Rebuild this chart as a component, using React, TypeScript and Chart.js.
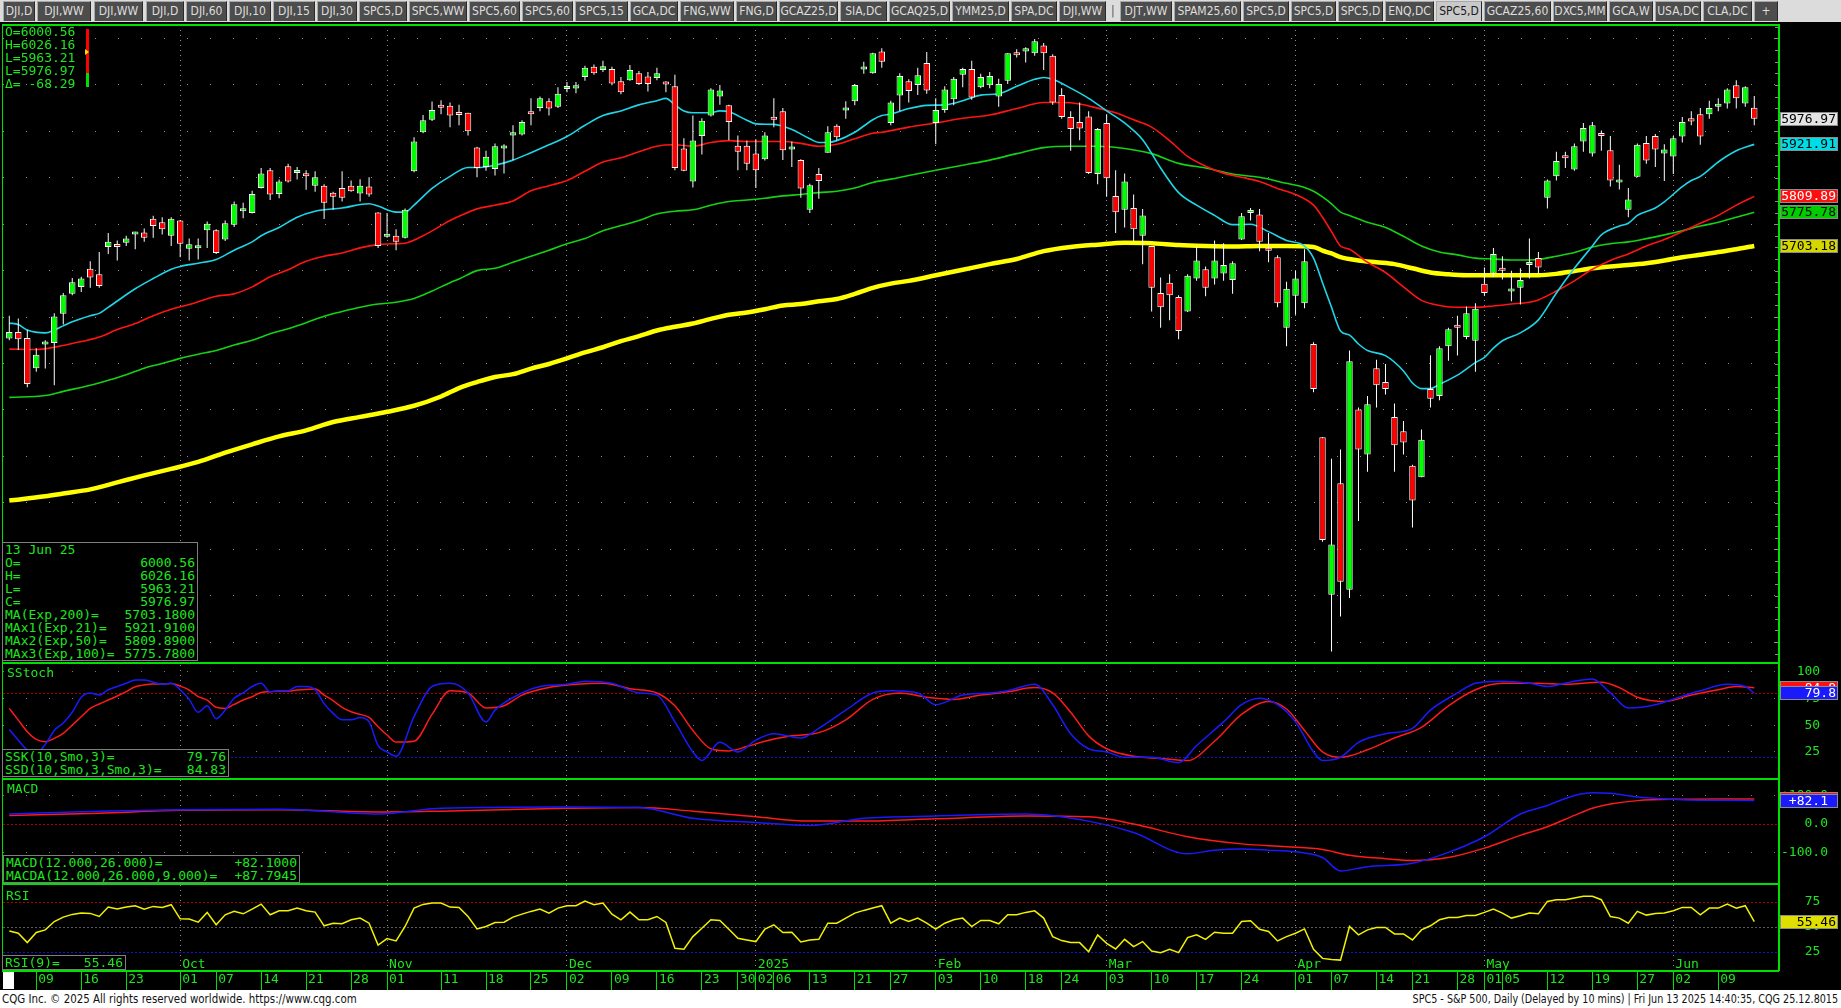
import React, { useEffect, useRef } from 'react';
import { Chart, registerables } from 'chart.js';

Chart.register(...registerables);

const MONO = "'DejaVu Sans Mono', monospace";
const NARROW = "'Liberation Sans Narrow', 'DejaVu Sans Condensed', sans-serif";
const GREEN = '#1ee61e';
const LINE_GREEN = '#00e000';

// Trading-day index: 0 = 04 Sep 2024 ... 194 = 13 Jun 2025
const dayTickIdx = [3, 8, 13, 19, 23, 28, 33, 38, 42, 48, 53, 58, 62, 67, 72, 77, 81, 83, 85, 89, 94, 98, 103, 108, 113, 117, 122, 127, 132, 137, 143, 147, 152, 156, 161, 164, 166, 171, 176, 181, 185, 190];
const dayTickLabels = ['09', '16', '23', '01', '07', '14', '21', '28', '01', '11', '18', '25', '02', '09', '16', '23', '30', '02', '06', '13', '21', '27', '03', '10', '18', '24', '03', '10', '17', '24', '01', '07', '14', '21', '28', '01', '05', '12', '19', '27', '02', '09'];
const monthTickIdx = [19, 42, 62, 83, 103, 122, 143, 164, 185];
const monthTickLabels = ['Oct', 'Nov', 'Dec', '2025', 'Feb', 'Mar', 'Apr', 'May', 'Jun'];

const open = [
  5504, 5518, 5505, 5440, 5491, 5494, 5557, 5600, 5615, 5654,
  5642, 5701, 5707, 5710, 5728, 5732, 5762, 5754, 5725, 5758,
  5697, 5698, 5737, 5737, 5717, 5749, 5778, 5774, 5828, 5866,
  5815, 5875, 5860, 5858, 5833, 5833, 5818, 5828, 5833, 5816,
  5831, 5775, 5723, 5725, 5721, 5864, 5948, 5975, 6007, 6005,
  5987, 5990, 5915, 5873, 5869, 5913, 5941, 5943, 5993, 6000,
  6015, 6003, 6041, 6042, 6067, 6089, 6082, 6084, 6058, 6060,
  6075, 6068, 6065, 6053, 6047, 5913, 5842, 5940, 5984, 6025,
  6006, 5919, 5919, 5902, 5890, 5981, 5993, 5911, 5888, 5781,
  5858, 5904, 5962, 5995, 6015, 6083, 6075, 6122, 5968, 6027,
  6058, 6050, 6097, 5968, 5996, 6019, 6072, 6084, 6045, 6049,
  6025, 6059, 6117, 6122, 6118, 6135, 6113, 6028, 5981, 5970,
  5982, 5858, 5968, 5811, 5781, 5785, 5725, 5703, 5602, 5624,
  5593, 5562, 5633, 5653, 5633, 5644, 5630, 5717, 5774, 5771,
  5694, 5679, 5527, 5596, 5580, 5492, 5291, 4952, 5192, 4963,
  5351, 5254, 5440, 5410, 5335, 5304, 5230, 5205, 5395, 5380,
  5487, 5530, 5507, 5499, 5622, 5644, 5654, 5605, 5613, 5662,
  5677, 5807, 5853, 5895, 5868, 5928, 5902, 5943, 5909, 5840,
  5781, 5852, 5925, 5940, 5902, 5896, 5939, 5978, 5987, 5987,
  6003, 6010, 6049, 6010, 6000.56,
];
const high = [
  5553, 5547, 5522, 5483, 5500, 5558, 5602, 5634, 5637, 5670,
  5690, 5731, 5715, 5725, 5734, 5741, 5768, 5765, 5765, 5759,
  5719, 5719, 5756, 5739, 5758, 5799, 5796, 5822, 5871, 5871,
  5846, 5880, 5873, 5866, 5864, 5836, 5820, 5864, 5844, 5847,
  5851, 5776, 5774, 5739, 5784, 5937, 5985, 6014, 6017, 6012,
  6007, 5990, 5917, 5908, 5924, 5922, 5963, 5974, 6021, 6025,
  6021, 6045, 6056, 6056, 6091, 6094, 6102, 6089, 6067, 6093,
  6080, 6078, 6087, 6058, 6072, 5935, 5984, 5978, 6043, 6050,
  6007, 5941, 5930, 5933, 5948, 6021, 6000, 5928, 5890, 5837,
  5871, 5961, 5965, 6015, 6052, 6100, 6119, 6129, 6016, 6075,
  6062, 6087, 6121, 6021, 6047, 6067, 6087, 6102, 6074, 6078,
  6063, 6118, 6127, 6131, 6149, 6140, 6116, 6043, 5993, 6012,
  5993, 5957, 5987, 5866, 5859, 5814, 5783, 5703, 5635, 5642,
  5597, 5642, 5703, 5659, 5715, 5709, 5670, 5774, 5785, 5783,
  5731, 5683, 5626, 5650, 5696, 5496, 5291, 5245, 5265, 5478,
  5355, 5380, 5458, 5449, 5364, 5326, 5232, 5308, 5468, 5487,
  5527, 5553, 5573, 5580, 5657, 5699, 5681, 5650, 5655, 5719,
  5690, 5846, 5906, 5906, 5924, 5968, 5970, 5952, 5940, 5878,
  5828, 5924, 5940, 5944, 5922, 5940, 5981, 5993, 6000, 6016,
  6021, 6043, 6060, 6047, 6026.16,
];
const low = [
  5500, 5479, 5399, 5432, 5439, 5403, 5534, 5597, 5604, 5613,
  5613, 5686, 5672, 5703, 5696, 5712, 5721, 5728, 5703, 5679,
  5672, 5674, 5699, 5686, 5714, 5744, 5763, 5773, 5827, 5802,
  5806, 5840, 5846, 5824, 5820, 5761, 5781, 5799, 5820, 5799,
  5809, 5699, 5721, 5694, 5719, 5862, 5946, 5972, 5987, 5959,
  5963, 5941, 5851, 5865, 5855, 5859, 5888, 5941, 5963, 5993,
  5984, 6000, 6034, 6032, 6059, 6072, 6078, 6049, 6030, 6059,
  6050, 6036, 6060, 6034, 5866, 5864, 5829, 5900, 5982, 6007,
  5931, 5866, 5866, 5828, 5887, 5959, 5888, 5873, 5807, 5774,
  5805, 5904, 5930, 5977, 6006, 6074, 6074, 6087, 5963, 5994,
  6012, 6028, 6031, 5922, 5990, 6006, 6045, 6018, 6043, 6043,
  6003, 6052, 6109, 6098, 6113, 6082, 6007, 5977, 5908, 5931,
  5858, 5836, 5809, 5731, 5743, 5712, 5664, 5562, 5527, 5543,
  5502, 5561, 5628, 5595, 5620, 5628, 5600, 5716, 5758, 5692,
  5668, 5571, 5487, 5555, 5569, 5388, 5066, 4830, 4905, 4945,
  5111, 5217, 5355, 5383, 5217, 5254, 5097, 5205, 5355, 5371,
  5456, 5467, 5502, 5432, 5596, 5637, 5631, 5584, 5577, 5633,
  5643, 5784, 5844, 5871, 5865, 5906, 5896, 5908, 5831, 5825,
  5765, 5851, 5880, 5873, 5843, 5858, 5926, 5963, 5921, 5977,
  5993, 5999, 5999, 6003, 5963.21,
];
const close = [
  5518, 5502, 5406, 5469, 5495, 5551, 5597, 5625, 5633, 5635,
  5617, 5712, 5701, 5719, 5731, 5721, 5746, 5739, 5762, 5708,
  5707, 5699, 5751, 5688, 5752, 5793, 5780, 5815, 5859, 5814,
  5842, 5842, 5864, 5853, 5851, 5796, 5809, 5807, 5821, 5833,
  5814, 5703, 5728, 5712, 5781, 5928, 5974, 5996, 6001, 5984,
  5985, 5950, 5871, 5895, 5918, 5918, 5948, 5970, 5987, 6021,
  5999, 6031, 6047, 6049, 6087, 6075, 6090, 6053, 6034, 6082,
  6052, 6052, 6075, 6051, 5871, 5865, 5930, 5973, 6040, 6038,
  5970, 5906, 5880, 5866, 5941, 5975, 5909, 5917, 5827, 5834,
  5843, 5948, 5937, 5997, 6050, 6087, 6118, 6100, 6012, 6069,
  6037, 6071, 6038, 5996, 6040, 6063, 6084, 6023, 6067, 6069,
  6052, 6118, 6114, 6129, 6144, 6118, 6012, 5981, 5955, 5956,
  5860, 5955, 5849, 5776, 5842, 5739, 5769, 5613, 5571, 5597,
  5520, 5639, 5672, 5613, 5672, 5662, 5666, 5767, 5776, 5712,
  5693, 5580, 5611, 5633, 5670, 5395, 5070, 5060, 4980, 5455,
  5265, 5362, 5403, 5395, 5274, 5280, 5155, 5286, 5374, 5483,
  5524, 5527, 5558, 5568, 5602, 5686, 5650, 5606, 5630, 5664,
  5657, 5844, 5886, 5892, 5918, 5957, 5963, 5940, 5844, 5842,
  5803, 5921, 5887, 5911, 5911, 5935, 5970, 5971, 5939, 6000,
  6005, 6040, 6021, 6045, 5976.97,
];

// moving averages: [day index, value]
const ema21 = [[0, 5537], [1, 5534], [2, 5522], [4, 5516], [5, 5522], [6, 5531], [7, 5540], [9, 5553], [10, 5558], [11, 5571], [14, 5611], [16, 5633], [18, 5653], [19, 5659], [21, 5666], [23, 5674], [25, 5694], [27, 5712], [28, 5725], [30, 5743], [32, 5765], [34, 5778], [37, 5785], [40, 5794], [41, 5789], [43, 5776], [44, 5776], [45, 5791], [47, 5827], [49, 5853], [51, 5872], [52, 5872], [54, 5877], [56, 5888], [58, 5904], [60, 5921], [62, 5939], [64, 5963], [66, 5984], [68, 5994], [70, 6007], [72, 6016], [73, 6021], [74, 6007], [75, 5994], [76, 5990], [78, 5990], [79, 5994], [80, 5992], [82, 5974], [83, 5966], [85, 5965], [87, 5954], [89, 5934], [90, 5926], [91, 5926], [92, 5930], [94, 5948], [96, 5975], [97, 5984], [98, 5987], [100, 5999], [102, 6006], [104, 6007], [106, 6016], [108, 6028], [110, 6031], [112, 6047], [114, 6062], [115, 6066], [116, 6062], [118, 6043], [120, 6021], [122, 5994], [124, 5968], [126, 5932], [128, 5871], [130, 5818], [132, 5791], [134, 5769], [136, 5749], [138, 5750], [140, 5734], [142, 5715], [144, 5703], [145, 5677], [146, 5624], [147, 5571], [148, 5520], [149, 5511], [150, 5492], [151, 5478], [153, 5467], [155, 5434], [156, 5408], [157, 5396], [158, 5396], [159, 5405], [161, 5425], [163, 5452], [164, 5463], [165, 5483], [166, 5499], [168, 5516], [170, 5544], [172, 5602], [174, 5655], [176, 5703], [177, 5727], [179, 5746], [180, 5752], [181, 5769], [183, 5785], [184, 5798], [186, 5831], [187, 5844], [188, 5853], [190, 5884], [192, 5908], [194, 5921.91]];
const ema50 = [[0, 5481], [3, 5480], [5, 5485], [7, 5493], [10, 5507], [12, 5523], [14, 5536], [16, 5553], [18, 5567], [20, 5577], [23, 5595], [25, 5600], [27, 5615], [29, 5637], [31, 5652], [33, 5670], [35, 5681], [37, 5688], [39, 5699], [41, 5706], [43, 5708], [44, 5709], [46, 5725], [48, 5747], [49, 5758], [50, 5767], [52, 5783], [54, 5791], [56, 5800], [58, 5822], [60, 5833], [62, 5844], [64, 5864], [66, 5884], [68, 5893], [70, 5906], [72, 5918], [74, 5921], [76, 5918], [78, 5926], [80, 5930], [82, 5928], [84, 5928], [86, 5928], [88, 5924], [90, 5918], [92, 5922], [94, 5934], [96, 5946], [97, 5948], [100, 5959], [103, 5968], [106, 5978], [109, 5985], [112, 5999], [115, 6012], [117, 6012], [119, 6009], [121, 6000], [123, 5990], [125, 5975], [127, 5959], [129, 5930], [131, 5896], [133, 5875], [135, 5860], [137, 5851], [139, 5842], [141, 5827], [143, 5814], [145, 5791], [146, 5765], [147, 5734], [148, 5703], [149, 5696], [151, 5668], [153, 5646], [155, 5615], [157, 5586], [159, 5575], [161, 5571], [163, 5571], [165, 5574], [167, 5578], [169, 5582], [170, 5587], [172, 5606], [174, 5628], [176, 5653], [178, 5672], [180, 5686], [182, 5703], [184, 5717], [186, 5734], [188, 5752], [190, 5769], [192, 5791], [194, 5809.89]];
const ema100 = [[0, 5377], [4, 5381], [6, 5390], [9, 5403], [11, 5414], [13, 5426], [15, 5440], [17, 5450], [19, 5461], [21, 5470], [23, 5478], [25, 5490], [27, 5500], [29, 5514], [31, 5525], [33, 5538], [35, 5552], [37, 5562], [39, 5571], [41, 5578], [43, 5582], [45, 5590], [47, 5606], [49, 5624], [50, 5632], [52, 5650], [54, 5655], [56, 5668], [58, 5681], [60, 5694], [62, 5708], [64, 5719], [66, 5736], [68, 5747], [70, 5758], [72, 5772], [74, 5778], [76, 5781], [78, 5791], [80, 5799], [82, 5802], [84, 5806], [86, 5811], [88, 5814], [90, 5818], [92, 5821], [94, 5828], [96, 5840], [98, 5847], [100, 5855], [103, 5866], [106, 5877], [109, 5888], [112, 5902], [115, 5915], [118, 5918], [121, 5918], [124, 5913], [127, 5902], [130, 5881], [133, 5871], [136, 5858], [139, 5851], [142, 5838], [144, 5829], [145, 5821], [146, 5809], [147, 5794], [148, 5776], [149, 5769], [151, 5754], [153, 5743], [155, 5724], [157, 5703], [159, 5690], [161, 5684], [163, 5677], [165, 5675], [167, 5673], [169, 5673], [170, 5674], [172, 5681], [174, 5689], [176, 5701], [178, 5708], [180, 5712], [182, 5719], [184, 5727], [186, 5736], [188, 5746], [190, 5754], [192, 5765], [194, 5775.78]];
const ema200 = [[0, 5155], [4, 5164], [6, 5170], [9, 5179], [12, 5194], [15, 5209], [18, 5223], [21, 5238], [24, 5258], [27, 5276], [30, 5293], [33, 5306], [36, 5324], [39, 5335], [42, 5346], [45, 5359], [48, 5379], [50, 5397], [52, 5410], [54, 5421], [56, 5427], [58, 5439], [60, 5449], [62, 5461], [64, 5474], [66, 5485], [68, 5498], [70, 5509], [72, 5521], [74, 5529], [76, 5536], [78, 5546], [80, 5555], [82, 5560], [84, 5567], [86, 5575], [88, 5578], [90, 5584], [92, 5589], [94, 5600], [96, 5613], [98, 5622], [100, 5628], [103, 5640], [106, 5652], [109, 5664], [112, 5675], [115, 5692], [118, 5701], [121, 5706], [124, 5710], [127, 5709], [130, 5705], [133, 5703], [136, 5702], [139, 5703], [142, 5703], [145, 5701], [146, 5693], [147, 5687], [148, 5679], [150, 5672], [152, 5668], [154, 5664], [156, 5655], [158, 5646], [160, 5642], [162, 5640], [164, 5640], [166, 5640], [168, 5640], [170, 5640], [172, 5643], [174, 5649], [176, 5655], [178, 5659], [180, 5662], [182, 5666], [184, 5672], [186, 5679], [188, 5684], [190, 5690], [192, 5696], [194, 5703.18]];

// slow stochastic (10,3,3)
const stochK = [[0, 46], [1, 36], [2, 27], [3, 24], [4, 32], [5, 45], [6, 52], [7, 62], [8, 76], [9, 80], [10, 78], [11, 83], [12, 86], [13, 89], [14, 92], [15, 92], [16, 90], [17, 88], [18, 89], [19, 83], [20, 74], [21, 62], [22, 68], [23, 56], [24, 64], [25, 75], [26, 80], [27, 86], [28, 89], [29, 81], [30, 82], [31, 82], [32, 86], [33, 86], [34, 83], [35, 70], [36, 61], [37, 55], [38, 55], [39, 57], [40, 53], [41, 31], [42, 25], [43, 21], [45, 58], [47, 86], [49, 89], [51, 80], [53, 53], [54, 64], [57, 80], [59, 86], [62, 88], [64, 91], [67, 89], [70, 80], [72, 78], [74, 53], [76, 25], [77, 17], [79, 34], [81, 25], [83, 36], [85, 42], [88, 38], [90, 47], [93, 64], [96, 80], [98, 82], [101, 80], [103, 69], [106, 78], [109, 80], [111, 82], [114, 88], [116, 69], [118, 42], [120, 28], [122, 25], [124, 20], [127, 20], [130, 15], [132, 31], [135, 53], [137, 69], [139, 75], [141, 69], [143, 53], [145, 25], [146, 17], [148, 20], [150, 34], [153, 42], [156, 47], [158, 64], [161, 80], [163, 89], [166, 91], [169, 89], [171, 86], [174, 91], [176, 93], [178, 80], [180, 66], [183, 69], [186, 77], [188, 82], [191, 88], [193, 86], [194, 79.76]];
const stochD = [[0, 65.6], [1, 54.7], [2, 43.9], [3, 36.7], [4, 34.5], [5, 37.6], [6, 42.3], [7, 50.1], [8, 57.8], [9, 65.6], [10, 69.7], [11, 73.4], [12, 77.1], [13, 81.2], [14, 85.8], [15, 87.4], [16, 88.3], [17, 88.3], [18, 88.9], [19, 86.4], [20, 82.7], [21, 76.5], [22, 73.4], [23, 66.6], [24, 65.6], [25, 69.3], [26, 73.4], [27, 76.5], [28, 80.5], [29, 81.2], [30, 81.8], [31, 81.8], [32, 82.7], [33, 83.3], [34, 83.6], [35, 78], [36, 72.8], [37, 66.6], [38, 62.5], [39, 60], [40, 57.2], [41, 48.5], [42, 40.8], [43, 34.2], [45, 35], [47, 60], [49, 82], [51, 80], [53, 66], [55, 68], [57, 78], [60, 85], [63, 88], [66, 89], [69, 84], [72, 80], [74, 68], [76, 45], [78, 28], [80, 26], [82, 30], [84, 35], [87, 40], [90, 43], [93, 55], [96, 74], [99, 80], [102, 76], [105, 74], [108, 78], [111, 81], [114, 85], [116, 80], [118, 62], [120, 40], [122, 28], [125, 21], [128, 19], [131, 17], [134, 35], [137, 60], [140, 72], [142, 65], [144, 45], [146, 25], [148, 20], [151, 27], [154, 38], [157, 48], [160, 68], [163, 83], [166, 89], [170, 89], [173, 88], [177, 90], [179, 85], [181, 76], [184, 72], [187, 78], [190, 83], [192, 86], [194, 84.83]];

// MACD (12,26,9)
const macdLine = [[0, 35], [10, 45], [19, 50], [30, 52], [41, 35], [48, 55], [62, 60], [70, 58], [76, 20], [83, 5], [89, -5], [95, 20], [103, 28], [113, 35], [120, 10], [125, -30], [131, -105], [134, -92], [137, -88], [140, -92], [143, -98], [146, -118], [148, -165], [151, -150], [156, -138], [160, -100], [164, -45], [168, 35], [171, 65], [174, 100], [176, 110], [178, 108], [181, 95], [186, 85], [190, 83], [194, 82.1]];
const macdAvg = [[0, 30], [10, 38], [19, 48], [30, 50], [41, 42], [48, 45], [62, 55], [70, 58], [76, 45], [83, 25], [89, 10], [95, 10], [103, 18], [113, 28], [120, 25], [125, 0], [131, -45], [137, -70], [142, -80], [146, -90], [149, -110], [153, -122], [156, -128], [160, -118], [164, -85], [168, -40], [171, -10], [174, 30], [176, 55], [178, 70], [181, 82], [186, 87], [190, 88], [194, 87.79]];

// RSI (9), one value per day
const rsi = [
  46.1, 43.8, 34.4, 44.5, 47.1, 55.5, 59.9, 62.6, 63.9, 63.6,
  60.5, 69.9, 67.9, 69.9, 71.3, 67.9, 70.6, 69.6, 72.3, 58.2,
  57.9, 54.8, 64.6, 52.2, 62.2, 65.6, 63.2, 67.9, 72.9, 62.2,
  66.2, 66.2, 68.9, 66.2, 64.9, 51.2, 53.8, 53.2, 57.2, 58.9,
  53.8, 32.0, 38.4, 36.1, 50.5, 68.9, 72.6, 74.0, 74.0, 69.9,
  69.6, 60.5, 48.1, 50.5, 54.5, 54.8, 59.9, 62.9, 65.6, 67.9,
  63.9, 68.9, 71.3, 71.3, 76.0, 72.3, 74.0, 62.9, 57.2, 64.9,
  57.2, 57.2, 60.5, 54.5, 28.7, 27.7, 40.4, 48.8, 57.2, 56.5,
  47.8, 38.8, 37.1, 35.4, 47.8, 52.2, 44.5, 44.8, 35.1, 37.1,
  37.7, 53.8, 53.8, 58.9, 63.9, 66.6, 68.9, 71.3, 53.8, 58.9,
  55.5, 58.9, 53.8, 47.8, 53.8, 57.2, 58.9, 50.5, 56.5, 56.5,
  53.2, 62.2, 62.2, 64.6, 66.2, 58.9, 40.4, 36.4, 34.4, 34.4,
  25.3, 42.1, 33.7, 28.0, 37.7, 30.4, 35.4, 26.0, 24.3, 27.7,
  24.3, 39.4, 42.1, 37.7, 44.8, 43.8, 43.8, 55.5, 56.2, 47.8,
  45.5, 36.1, 40.4, 43.8, 48.1, 27.7, 18.6, 17.6, 16.9, 50.5,
  42.1, 47.1, 49.5, 49.5, 43.1, 43.1, 37.1, 47.1, 51.2, 57.2,
  59.5, 59.5, 61.6, 61.6, 64.6, 67.9, 63.9, 58.9, 61.2, 63.9,
  63.2, 75.6, 77.3, 77.3, 79.0, 80.7, 80.7, 77.3, 60.5, 58.9,
  53.8, 65.6, 61.9, 63.6, 63.9, 66.2, 69.6, 69.6, 62.2, 68.9,
  68.9, 72.9, 68.9, 71.3, 55.46,
];

const tabs: [string, number, number][] = [
  ['DJI,D', 3, 35], ['DJI,WW', 37, 91], ['DJI,WW', 94, 143], ['DJI,D', 146, 184], ['DJI,60', 186, 227],
  ['DJI,10', 229, 271], ['DJI,15', 273, 315], ['DJI,30', 317, 357], ['SPC5,D', 359, 407], ['SPC5,WW', 409, 467],
  ['SPC5,60', 469, 520], ['SPC5,60', 522, 573], ['SPC5,15', 575, 628], ['GCA,DC', 630, 678], ['FNG,WW', 680, 734],
  ['FNG,D', 736, 777], ['GCAZ25,D', 779, 838], ['SIA,DC', 840, 887], ['GCAQ25,D', 889, 950], ['YMM25,D', 952, 1009],
  ['SPA,DC', 1011, 1057], ['DJI,WW', 1059, 1106], ['DJT,WW', 1120, 1172], ['SPAM25,60', 1174, 1241], ['SPC5,D', 1243, 1289],
  ['SPC5,D', 1291, 1336], ['SPC5,D', 1338, 1383], ['ENQ,DC', 1385, 1434], ['SPC5,D', 1436, 1482], ['GCAZ25,60', 1484, 1551],
  ['DXC5,MM', 1553, 1607], ['GCA,W', 1609, 1653], ['USA,DC', 1655, 1701], ['CLA,DC', 1703, 1752], ['+', 1754, 1778],
];
const ACTIVE_TAB = 28;

const ohlcLines = ['O=6000.56', 'H=6026.16', 'L=5963.21', 'L=5976.97', 'Δ= -68.29'];
const dataWindow: [string, string][] = [
  ['13 Jun 25', ''], ['O=', '6000.56'], ['H=', '6026.16'], ['L=', '5963.21'], ['C=', '5976.97'],
  ['MA(Exp,200)=', '5703.1800'], ['MAx1(Exp,21)=', '5921.9100'], ['MAx2(Exp,50)=', '5809.8900'], ['MAx3(Exp,100)=', '5775.7800'],
];
const stochBox: [string, string][] = [['SSK(10,Smo,3)=', '79.76'], ['SSD(10,Smo,3,Smo,3)=', '84.83']];
const macdBox: [string, string][] = [['MACD(12.000,26.000)=', '+82.1000'], ['MACDA(12.000,26.000,9.000)=', '+87.7945']];
const rsiBox: [string, string][] = [['RSI(9)=', '55.46']];

const pairs = (arr: number[][]) => arr.map(([i, v]) => ({ x: i, y: v }));

const overlayPlugin = {
  id: 'cqgOverlay',
  beforeDatasetsDraw(chart: any) {
    const { ctx, chartArea } = chart;
    const refs: [string, number, string][] = [
      ['yS', 80, '#b00000'], ['yS', 20, '#1010c0'], ['yM', 0, '#b00000'],
      ['yR', 75, '#b00000'], ['yR', 50, '#5a5a5a'], ['yR', 25, '#1010e0'],
    ];
    ctx.save();
    ctx.lineWidth = 1;
    ctx.setLineDash([2, 2]);
    for (const [id, v, c] of refs) {
      const y = Math.round(chart.scales[id].getPixelForValue(v)) + 0.5;
      ctx.strokeStyle = c;
      ctx.beginPath();
      ctx.moveTo(chartArea.left, y);
      ctx.lineTo(chartArea.right, y);
      ctx.stroke();
    }
    ctx.restore();
  },
  afterDraw(chart: any) {
    const { ctx, chartArea, scales } = chart;
    const L = chartArea.left;
    const R = chartArea.right;
    ctx.save();
    ctx.strokeStyle = '#8a8a8a';
    ctx.lineWidth = 1;
    for (let v = 4825; v <= 6175; v += 25) {
      const y = Math.round(scales.y.getPixelForValue(v)) + 0.5;
      ctx.beginPath();
      ctx.moveTo(R - 4, y);
      ctx.lineTo(R, y);
      ctx.stroke();
    }
    ctx.fillStyle = LINE_GREEN;
    [scales.y.top, scales.yS.top, scales.yM.top, scales.yR.top, scales.yR.bottom].forEach((y: number) => {
      ctx.fillRect(L - 1, Math.round(y) - 1, R - L + 1, 2);
    });
    ctx.fillRect(L - 1, scales.y.top - 1, 1, scales.yR.bottom - scales.y.top + 1);
    ctx.fillRect(R - 1, scales.y.top - 1, 2, scales.yR.bottom - scales.y.top + 1);
    ctx.font = `13px ${MONO}`;
    ctx.fillStyle = GREEN;
    ctx.textBaseline = 'middle';
    ctx.textAlign = 'left';
    monthTickIdx.forEach((m, k) => {
      ctx.fillText(monthTickLabels[k], scales.x.getPixelForValue(m) + 2, scales.yR.bottom - 6);
    });
    const badge = (id: string, value: number, text: string, bg: string, fg: string, textRight = 1836) => {
      const y = scales[id].getPixelForValue(value);
      const top = Math.round(y - 7);
      ctx.fillStyle = bg;
      ctx.fillRect(1780, top, 58, 14);
      ctx.strokeStyle = '#8c8c8c';
      ctx.lineWidth = 1;
      ctx.strokeRect(1780.5, top + 0.5, 57, 13);
      ctx.fillStyle = fg;
      ctx.textAlign = 'right';
      ctx.fillText(text, textRight, top + 7.5);
    };
    badge('y', 5703.18, '5703.18', '#d6d600', '#000');
    badge('y', 5775.78, '5775.78', '#00cc00', '#000');
    badge('y', 5809.89, '5809.89', '#ff1010', '#fff');
    badge('y', 5921.91, '5921.91', '#00dce6', '#000');
    badge('y', 5976.97, '5976.97', '#e4e4e4', '#000');
    badge('yS', 84.83, '84.8', '#ff1010', '#fff');
    badge('yS', 79.76, '79.8', '#1a1aff', '#fff');
    badge('yM', 87.79, '+87.8', '#ff1010', '#fff', 1828);
    badge('yM', 82.1, '+82.1', '#1a1aff', '#fff', 1828);
    badge('yR', 55.46, '55.46', '#e0e000', '#000');
    ctx.restore();
  },
};

const yAxisCommon = (weight: number) => ({
  type: 'linear',
  position: 'right',
  stack: 'panels',
  stackWeight: weight,
  afterFit: (s: any) => {
    s.width = 62;
    s.paddingTop = 0;
    s.paddingBottom = 0;
  },
});

const tickFont = { family: MONO, size: 13 };

function Box({ rows, left, top, width, keyPrefix }: { rows: [string, string][]; left: number; top: number; width: number; keyPrefix: string }) {
  return (
    <div
      style={{
        position: 'absolute', left, top, width, background: '#000', border: '1px solid #7f7f7f',
        boxSizing: 'border-box', padding: '0 2px', color: GREEN, font: `13px/13px ${MONO}`, whiteSpace: 'pre',
      }}
    >
      {rows.map(([l, r], k) => (
        <div key={keyPrefix + k} style={{ display: 'flex', justifyContent: 'space-between', height: 13 }}>
          <span>{l}</span>
          <span>{r}</span>
        </div>
      ))}
    </div>
  );
}

export default function App() {
  const canvasRef = useRef<HTMLCanvasElement | null>(null);

  useEffect(() => {
    const idx = open.map((_, i) => i);
    const chart = new Chart(canvasRef.current as HTMLCanvasElement, {
      type: 'bar',
      data: {
        datasets: [
          {
            type: 'bar', label: 'body', order: 1, grouped: false, maxBarThickness: 7, minBarLength: 3,
            data: idx.map((i) => ({ x: i, y: [open[i], close[i]] })),
            backgroundColor: idx.map((i) => (close[i] >= open[i] ? '#00ff00' : '#ff0000')),
            borderColor: '#ffffff', borderWidth: 1, borderSkipped: false,
            xAxisID: 'x', yAxisID: 'y',
          },
          {
            type: 'bar', label: 'wick', order: 2, grouped: false, maxBarThickness: 1,
            data: idx.map((i) => ({ x: i, y: [low[i], high[i]] })),
            backgroundColor: '#ffffff', borderWidth: 0,
            xAxisID: 'x', yAxisID: 'y',
          },
          { type: 'line', label: 'MAx1(Exp,21)', order: 3, data: pairs(ema21), borderColor: '#1ed6e8', borderWidth: 1.6, pointRadius: 0, cubicInterpolationMode: 'monotone', xAxisID: 'x', yAxisID: 'y' },
          { type: 'line', label: 'MAx2(Exp,50)', order: 4, data: pairs(ema50), borderColor: '#ff1414', borderWidth: 1.6, pointRadius: 0, cubicInterpolationMode: 'monotone', xAxisID: 'x', yAxisID: 'y' },
          { type: 'line', label: 'MAx3(Exp,100)', order: 5, data: pairs(ema100), borderColor: '#14d214', borderWidth: 1.6, pointRadius: 0, cubicInterpolationMode: 'monotone', xAxisID: 'x', yAxisID: 'y' },
          { type: 'line', label: 'MA(Exp,200)', order: 6, data: pairs(ema200), borderColor: '#ffff00', borderWidth: 4.5, pointRadius: 0, cubicInterpolationMode: 'monotone', xAxisID: 'x', yAxisID: 'y' },
          { type: 'line', label: 'SSD', order: 8, data: pairs(stochD), borderColor: '#ff1a1a', borderWidth: 1.5, pointRadius: 0, cubicInterpolationMode: 'monotone', xAxisID: 'x', yAxisID: 'yS' },
          { type: 'line', label: 'SSK', order: 7, data: pairs(stochK), borderColor: '#1a1aff', borderWidth: 1.5, pointRadius: 0, cubicInterpolationMode: 'monotone', xAxisID: 'x', yAxisID: 'yS' },
          { type: 'line', label: 'MACDA', order: 8, data: pairs(macdAvg), borderColor: '#ff1a1a', borderWidth: 1.5, pointRadius: 0, cubicInterpolationMode: 'monotone', xAxisID: 'x', yAxisID: 'yM' },
          { type: 'line', label: 'MACD', order: 7, data: pairs(macdLine), borderColor: '#1a1aff', borderWidth: 1.5, pointRadius: 0, cubicInterpolationMode: 'monotone', xAxisID: 'x', yAxisID: 'yM' },
          { type: 'line', label: 'RSI', order: 7, data: rsi.map((v, i) => ({ x: i, y: v })), borderColor: '#f2f200', borderWidth: 1.5, pointRadius: 0, tension: 0, xAxisID: 'x', yAxisID: 'yR' },
        ],
      },
      options: {
        responsive: false,
        maintainAspectRatio: false,
        animation: false,
        events: [],
        layout: { padding: { left: 3, top: 2, right: 0, bottom: 0 } },
        plugins: { legend: { display: false }, tooltip: { enabled: false } },
        scales: {
          x: {
            type: 'linear', position: 'bottom', min: -0.7, max: 196.75, offset: false,
            afterBuildTicks: (s: any) => { s.ticks = dayTickIdx.map((v) => ({ value: v })); },
            afterFit: (s: any) => { s.height = 19; s.paddingLeft = 0; s.paddingRight = 0; },
            ticks: {
              autoSkip: false, maxRotation: 0, minRotation: 0, align: 'start', padding: -18, labelOffset: 2,
              color: GREEN, font: tickFont,
              callback: (_v: any, i: number) => dayTickLabels[i],
            },
            grid: { offset: false, drawOnChartArea: false, drawTicks: true, tickLength: 19, tickColor: LINE_GREEN, tickWidth: 1, color: LINE_GREEN },
            border: { display: false },
          },
          xm: {
            type: 'linear', position: 'bottom', min: -0.7, max: 196.75, offset: false,
            afterBuildTicks: (s: any) => { s.ticks = monthTickIdx.map((v) => ({ value: v })); },
            afterFit: (s: any) => { s.height = 0; s.paddingLeft = 0; s.paddingRight = 0; },
            ticks: { display: false },
            grid: { offset: false, drawOnChartArea: true, drawTicks: false, color: '#8c8c8c', lineWidth: 1 },
            border: { display: false, dash: [1, 4] },
          },
          y: {
            ...yAxisCommon(638), min: 4805, max: 6179,
            afterBuildTicks: (s: any) => { const t = []; for (let v = 4850; v <= 6150; v += 50) t.push({ value: v }); s.ticks = t; },
            ticks: { color: GREEN, font: tickFont, padding: 2, labelOffset: -2, callback: (v: number) => (v % 100 === 0 ? v.toFixed(2) : '') },
            grid: { color: '#8c8c8c', drawTicks: false, lineWidth: 1 },
            border: { display: false, dash: [1, 22] },
          },
          yS: {
            ...yAxisCommon(116), min: -0.2, max: 107.9,
            afterBuildTicks: (s: any) => { s.ticks = [25, 50, 75, 100].map((v) => ({ value: v })); },
            ticks: { color: GREEN, font: tickFont, padding: 2, callback: (v: number) => String(v).padStart(5, ' ') },
            grid: { color: '#7a7a7a', drawTicks: false, lineWidth: 1 },
            border: { display: false, dash: [1, 22] },
          },
          yM: {
            ...yAxisCommon(105), min: -211, max: 158,
            afterBuildTicks: (s: any) => { s.ticks = [-100, 0, 100].map((v) => ({ value: v })); },
            ticks: {
              color: GREEN, font: tickFont, padding: 2,
              callback: (v: number) => (v > 0 ? '+' + v.toFixed(1) : v.toFixed(1)).padStart(6, ' '),
            },
            grid: { color: (c: any) => (c.tick && c.tick.value === 0 ? 'rgba(0,0,0,0)' : '#7a7a7a'), drawTicks: false, lineWidth: 1 },
            border: { display: false, dash: [1, 22] },
          },
          yR: {
            ...yAxisCommon(87), min: 6, max: 93,
            afterBuildTicks: (s: any) => { s.ticks = [25, 50, 75].map((v) => ({ value: v })); },
            ticks: { color: GREEN, font: tickFont, padding: 2, callback: (v: number) => String(v).padStart(4, ' ') },
            grid: { display: false },
            border: { display: false },
          },
        },
      } as any,
      plugins: [overlayPlugin],
    } as any);
    return () => { chart.destroy(); };
  }, []);

  return (
    <div style={{ position: 'absolute', left: 0, top: 0, width: 1841, height: 1008, background: '#000', overflow: 'hidden' }}>
      <div style={{ position: 'absolute', left: 0, top: 0, width: 1841, height: 22, background: '#dcdcdc' }}>
        {tabs.map(([label, l, r], k) => (
          <div
            key={'tab' + k}
            style={{
              position: 'absolute', left: l, top: 1, width: r - l, height: 20, boxSizing: 'border-box',
              background: k === ACTIVE_TAB ? '#c9c9c9' : '#4d4d4d',
              color: k === ACTIVE_TAB ? '#1a1a1a' : '#dedede',
              borderTop: '1px solid #a8a8a8', borderLeft: '1px solid #a8a8a8', borderRight: '1px solid #2a2a2a',
              font: `12px/18px ${NARROW}`, textAlign: 'center', whiteSpace: 'nowrap', overflow: 'hidden',
            }}
          >
            {label}
          </div>
        ))}
        <div style={{ position: 'absolute', left: 1111, top: 1, color: '#555', font: `12px/20px ${NARROW}` }}>|</div>
      </div>

      <canvas
        ref={canvasRef}
        width={1841}
        height={967}
        style={{ position: 'absolute', left: 0, top: 23, width: 1841, height: 967 }}
      />

      <div style={{ position: 'absolute', left: 5, top: 25, color: GREEN, font: `13px/13px ${MONO}`, whiteSpace: 'pre' }}>
        {ohlcLines.map((t, k) => (<div key={'o' + k} style={{ height: 13 }}>{t}</div>))}
      </div>
      <div style={{ position: 'absolute', left: 86, top: 29, width: 3, height: 44, background: '#ff0000' }} />
      <div style={{ position: 'absolute', left: 86, top: 73, width: 3, height: 14, background: '#00e000' }} />
      <div style={{ position: 'absolute', left: 85, top: 49, width: 0, height: 0, borderTop: '3px solid transparent', borderBottom: '3px solid transparent', borderLeft: '4px solid #e8e800' }} />

      <Box rows={dataWindow} left={2} top={542} width={196} keyPrefix="dw" />

      <div style={{ position: 'absolute', left: 7, top: 666, color: GREEN, font: `13px/13px ${MONO}` }}>SStoch</div>
      <Box rows={stochBox} left={2} top={749} width={227} keyPrefix="sb" />

      <div style={{ position: 'absolute', left: 7, top: 782, color: GREEN, font: `13px/13px ${MONO}` }}>MACD</div>
      <Box rows={macdBox} left={3} top={855} width={297} keyPrefix="mb" />

      <div style={{ position: 'absolute', left: 6, top: 889, color: GREEN, font: `13px/13px ${MONO}` }}>RSI</div>
      <Box rows={rsiBox} left={2} top={955} width={124} keyPrefix="rb" />

      <div style={{ position: 'absolute', left: 3, top: 972, width: 11, height: 17, background: '#fff' }} />

      <div style={{ position: 'absolute', left: 0, top: 990, width: 1841, height: 18, background: '#fff' }}>
        <div style={{ position: 'absolute', left: 2, top: 2, color: '#111', font: `12px/14px ${NARROW}`, whiteSpace: 'nowrap', transform: 'scaleX(0.95)', transformOrigin: 'left center' }}>
          CQG Inc. © 2025 All rights reserved worldwide. https://www.cqg.com
        </div>
        <div style={{ position: 'absolute', right: 3, top: 2, color: '#111', font: `12px/14px ${NARROW}`, whiteSpace: 'nowrap', transform: 'scaleX(0.89)', transformOrigin: 'right center' }}>
          SPC5 - S&amp;P 500, Daily (Delayed by 10 mins) | Fri Jun 13 2025 14:40:35, CQG 25.12.8015
        </div>
      </div>
    </div>
  );
}
